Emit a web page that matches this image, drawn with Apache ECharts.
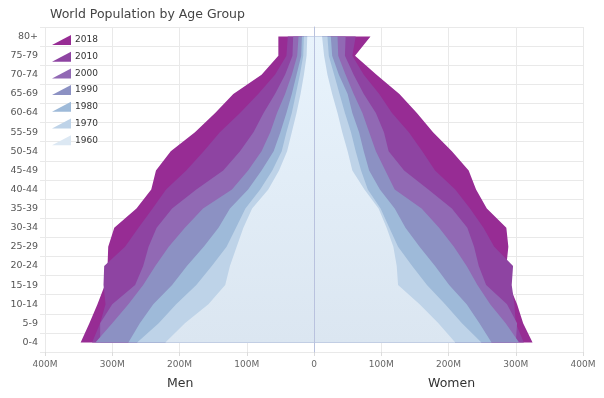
<!DOCTYPE html>
<html>
<head>
<meta charset="utf-8">
<script src="https://cdn.jsdelivr.net/npm/echarts@6/dist/echarts.min.js"></script>
<style>
  html, body { margin: 0; padding: 0; background: #fff; }
  #chart { width: 604px; height: 398px; }
</style>
</head>
<body>
<div id="chart"></div>
<script>
// age groups, bottom to top
var ageGroups = ['0-4', '5-9', '10-14', '15-19', '20-24', '25-29', '30-34', '35-39',
  '40-44', '45-49', '50-54', '55-59', '60-64', '65-69', '70-74', '75-79', '80+'];

var years = ['2018', '2010', '2000', '1990', '1980', '1970', '1960'];
var yearColors = ['#972c94', '#8e44a2', '#9169b4', '#8c91c3', '#9ebad9', '#bed3e8', '#dce8f3'];

// population in millions, same order as ageGroups
var men2018 = [347, 334, 322, 311, 307, 306, 297, 264, 242, 235, 213, 177, 147, 120, 78, 53, 53];
var men2010 = [330, 318, 310, 313, 312, 281, 261, 240, 220, 190, 164, 140, 110, 83, 58, 41, 39];
var men2000 = [318, 318, 300, 266, 254, 246, 234, 211, 175, 135, 110, 90, 75, 58, 43, 32, 31];
var men1990 = [325, 300, 276, 254, 236, 216, 192, 165, 122, 98, 78, 65, 55, 43, 33, 25, 23];
var men1980 = [276, 259, 239, 211, 189, 164, 142, 125, 98, 78, 60, 50, 41, 33, 26, 19, 18];
var men1970 = [263, 231, 205, 175, 152, 130, 116, 102, 80, 62, 48, 41, 33, 27, 21, 16, 15];
var men1960 = [221, 192, 157, 132, 125, 115, 105, 92, 68, 52, 40, 33, 26, 20, 15, 11, 10];

var women2018 = [325, 311, 302, 290, 286, 289, 286, 257, 241, 230, 205, 177, 153, 127, 93, 61, 84];
var women2010 = [312, 300, 298, 294, 296, 268, 252, 232, 210, 180, 161, 141, 116, 97, 74, 57, 62];
var women2000 = [300, 302, 287, 256, 245, 238, 228, 205, 170, 134, 111, 104, 92, 74, 59, 46, 47];
var women1990 = [305, 285, 262, 243, 227, 208, 186, 160, 120, 106, 92, 82, 72, 59, 47, 36, 35];
var women1980 = [264, 246, 227, 201, 180, 157, 136, 120, 98, 82, 74, 67, 57, 50, 37, 27, 25];
var women1970 = [249, 220, 195, 168, 146, 125, 112, 99, 80, 70, 62, 55, 46, 38, 30, 22, 20];
var women1960 = [210, 185, 157, 125, 123, 118, 108, 96, 75, 57, 50, 42, 35, 27, 20, 15, 12];

var menData = [men2018, men2010, men2000, men1990, men1980, men1970, men1960];
var womenData = [women2018, women2010, women2000, women1990, women1980, women1970, women1960];

var font = 'DejaVu Sans';
var gridColor = '#e9e9e9';

var series = [];
years.forEach(function(year, i) {
  var c = yearColors[i];
  // the oldest layer fades slightly lighter toward the top
  var fill = year === '1960'
    ? new echarts.graphic.LinearGradient(0, 0, 0, 1, [
        { offset: 0, color: '#e8f3fc' },
        { offset: 1, color: '#dbe6f1' }
      ])
    : c;
  [menData[i].map(function(v) { return -v; }), womenData[i]].forEach(function(vals) {
    series.push({
      name: year,
      type: 'line',
      data: vals,
      symbol: 'none',
      lineStyle: { width: 0 },
      itemStyle: { color: c },
      areaStyle: { color: fill, opacity: 1 }
    });
  });
});

var chart = echarts.init(document.getElementById('chart'), null, { renderer: 'canvas' });
chart.setOption({
  animation: false,
  textStyle: { fontFamily: font },
  title: {
    text: 'World Population by Age Group',
    left: 45,
    top: 3,
    textStyle: { fontFamily: font, fontSize: 12.5, fontWeight: 'normal', color: '#444' }
  },
  legend: {
    orient: 'vertical',
    left: 47,
    top: 30,
    itemWidth: 19,
    itemHeight: 10,
    itemGap: 6.7,
    icon: 'path://M0,10L19,0L19,10Z',
    data: years,
    textStyle: { fontFamily: font, fontSize: 9, color: '#333', padding: [0, 0, 0, -1] }
  },
  grid: { left: 45, right: 21, top: 27, bottom: 46 },
  xAxis: {
    type: 'value',
    min: -400,
    max: 400,
    interval: 100,
    axisLine: { show: true, onZero: false, lineStyle: { color: gridColor } },
    axisTick: { show: true, length: 4, lineStyle: { color: '#dcdcdc' } },
    axisLabel: {
      fontFamily: font, fontSize: 9, color: '#666', margin: 8,
      formatter: function(v) { return v === 0 ? '0' : Math.abs(v) + 'M'; }
    },
    splitLine: { lineStyle: { color: gridColor } }
  },
  yAxis: [{
    type: 'category',
    data: ageGroups,
    boundaryGap: true,
    axisLine: { show: false, onZero: false },
    axisTick: { show: true, length: 5, lineStyle: { color: gridColor } },
    axisLabel: { fontFamily: font, fontSize: 9.5, color: '#555', margin: 7 },
    splitLine: { show: true, lineStyle: { color: gridColor } }
  }, {
    type: 'category',
    data: ageGroups,
    position: 'left',
    axisLine: { show: true, onZero: true, lineStyle: { color: '#b9c2de' } },
    axisTick: { show: false },
    axisLabel: { show: false },
    splitLine: { show: false },
    z: 5
  }],
  graphic: [
    { type: 'text', left: 167, top: 377, style: { text: 'Men', font: '12.5px "DejaVu Sans"', fill: '#333' } },
    { type: 'text', left: 428, top: 377, style: { text: 'Women', font: '12.5px "DejaVu Sans"', fill: '#333' } }
  ],
  series: series
});
</script>
</body>
</html>
